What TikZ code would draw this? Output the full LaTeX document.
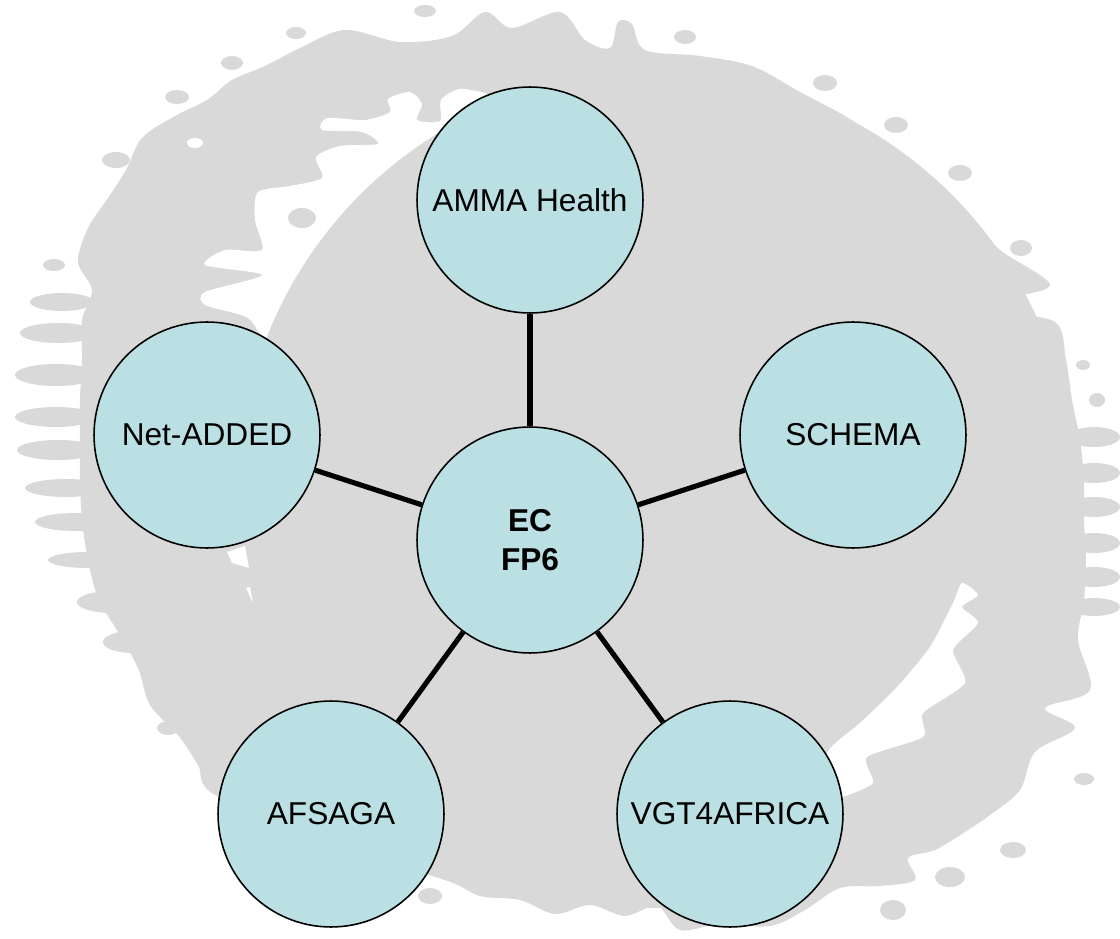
\documentclass[tikz,border=0pt]{standalone}
\usepackage{fontspec}
\setmainfont{Liberation Sans}
\definecolor{splash}{RGB}{217,217,217}
\definecolor{bubble}{RGB}{187,224,227}

\begin{document}
\begin{tikzpicture}[x=0.02cm,y=-0.02cm,
  proj/.style={circle,draw,line width=0.9pt,fill=bubble,minimum size=4.52cm,inner sep=0pt,align=center,font=\fontsize{18}{22}\selectfont},
  link/.style={line width=2.9pt}]
\useasboundingbox (0,0) rectangle (1120,939);

% splash ring behind the projects
\fill[splash] plot[smooth cycle,tension=0.55] coordinates {
(215,795) (198,765) (178,735) (150,705) (138,668) (118,632) (98,598) (88,560)
(82,520) (80,480) (80,440) (80,400) (82,360) (82,320) (92,290) (78,262)
(88,228) (108,198) (126,170) (142,138) (175,116) (207,100) (232,80) (265,66)
(300,48) (345,30) (400,42) (452,36) (485,12) (512,28) (560,12) (585,40)
(610,48) (618,22) (632,24) (645,50) (700,56) (752,66) (800,92) (845,116)
(880,140) (915,165) (945,192) (970,218) (1000,250) (1050,285) (1000,300) (998,312)
(1055,322) (1066,360) (1072,400) (1080,440) (1084,480) (1084,520) (1086,560) (1084,600)
(1078,640) (1090,690) (1045,708) (1075,728) (1035,752) (1020,790) (990,815) (965,832)
(935,850) (908,858) (915,880) (880,886) (840,888) (805,910) (770,926) (720,924)
(680,930) (657,906) (625,916) (590,905) (555,914) (520,900) (480,896) (445,880)
(330,845)};

% drops on the left and right rim
\foreach \x/\y/\a/\b in {62/302/32/9, 58/333/38/10, 56/375/41/11, 56/417/41/10,
  58/450/41/10, 66/488/41/9, 76/522/41/9, 88/560/40/8, 112/602/35/11, 132/642/29/11,
  1094/437/26/10, 1094/473/26/10, 1094/507/26/10, 1094/543/26/10, 1094/577/26/10, 1094/607/26/9} {
\fill[splash] (\x,\y) ellipse [x radius=\a, y radius=\b];
}
% loose dots
\foreach \x/\y/\a/\b in {425/11/11/6, 296/33/10/6, 232/63/11/7, 177/97/12/7, 116/160/14/8,
  54/265/11/6, 168/728/11/7, 685/37/11/7, 825/83/12/8, 896/125/12/8, 960/173/12/8,
  1021/248/11/8, 1083/365/7/5, 1097/400/8/7, 1084/779/10/6, 1013/850/13/8,
  950/877/15/10, 893/910/13/10, 430/896/12/8} {
\fill[splash] (\x,\y) ellipse [x radius=\a, y radius=\b];
}

% gap between rim and disc
\fill[white] plot[smooth cycle,tension=0.45] coordinates {
(268,345) (248,318) (205,305) (205,292) (262,275) (205,265) (225,250) (262,250)
(255,220) (258,192) (290,186) (322,178) (316,157) (340,146) (378,144) (362,132)
(322,130) (327,118) (365,120) (390,112) (388,99) (410,92) (422,104) (417,120)
(440,121) (441,100) (460,89) (490,95) (500,110) (470,150) (400,190) (330,260) (290,330)};
\fill[splash] (302,218) ellipse [x radius=14, y radius=10];
\fill[white] (195,143) ellipse [x radius=8, y radius=5];

% inner disc
\fill[splash] (656,490) circle [radius=418];

% cuts into the disc
\fill[white] plot[smooth cycle,tension=0.4] coordinates {
(962,583) (978,595) (962,607) (978,623) (953,650) (965,683) (923,713) (923,737)
(867,757) (873,783) (843,797) (830,800) (827,753) (860,723) (897,687) (930,647) (953,603)};
\fill[white] (227,552) -- (245,546) -- (249,568) -- (232,563) -- cycle;
\fill[white] (246,588) -- (250,587) -- (253,603) -- cycle;

\node[proj] (ec) at (530,540) {\bfseries EC\\\bfseries FP6};
\node[proj] (amma) at (530,200) {AMMA Health};
\node[proj] (schema) at (853,435) {SCHEMA};
\node[proj] (net) at (207,435) {Net-ADDED};
\node[proj] (afsaga) at (331,814) {AFSAGA};
\node[proj] (vgt) at (730,814) {VGT4AFRICA};

\foreach \n in {amma,schema,vgt,afsaga,net} {
\draw[link] (ec) -- (\n);
}
\end{tikzpicture}
\end{document}
